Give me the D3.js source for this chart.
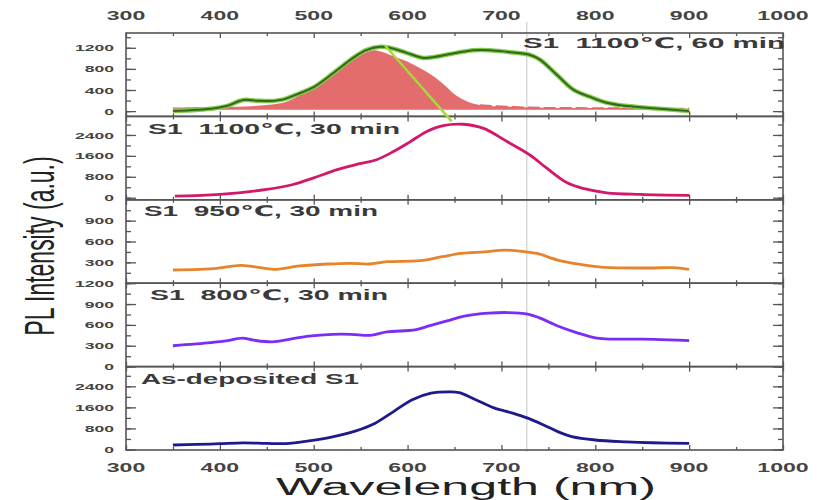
<!DOCTYPE html>
<meta charset="utf-8">
<style>
body{margin:0;background:#fff}
text{font-family:"Liberation Sans","DejaVu Sans","Noto Sans CJK SC",sans-serif;fill:#333}
</style>
<svg width="819" height="500"></svg>
<script src="https://cdn.jsdelivr.net/npm/d3@7/dist/d3.min.js"></script>
<script>

// ---- data (wavelength nm / PL intensity a.u.) ----
var xTicks = [300, 400, 500, 600, 700, 800, 900, 1000];

// top panel: S1 1100℃, 60 min (measured + fitted peak)
var s60Wl = [350, 393, 407, 425, 439, 453, 468, 485, 500, 521, 542, 556, 571, 581, 599, 617, 630, 652, 670, 688, 706, 729, 741, 759, 777, 794, 812, 834, 865, 900];
var s60PL = [0, 51, 96, 210, 198, 191, 223, 338, 453, 721, 1008, 1155, 1219, 1200, 1104, 1008, 1030, 1104, 1155, 1155, 1123, 1072, 976, 689, 402, 274, 160, 96, 51, 0];
var fitWl = [350, 414, 450, 471, 485, 503, 521, 539, 553, 564, 574, 585, 599, 613, 628, 641, 650, 663, 677, 706, 741, 812, 900];
var fitPL = [70, 83, 115, 179, 306, 498, 721, 944, 1091, 1155, 1117, 1040, 944, 817, 657, 466, 320, 185, 115, 83, 64, 57, 45];
var tangentWl = [576, 647];
var tangentPL = [1244, -195];

// S1 1100℃, 30 min
var s30Wl = [352, 400, 450, 478, 500, 525, 549, 567, 585, 603, 620, 638, 659, 681, 706, 730, 748, 770, 787, 812, 848, 900];
var s30PL = [60, 126, 316, 505, 758, 1073, 1300, 1452, 1768, 2147, 2526, 2760, 2810, 2652, 2147, 1642, 1137, 568, 354, 189, 126, 88];

// S1 950℃, 30 min
var s950Wl = [350, 397, 422, 436, 458, 485, 515, 539, 559, 578, 613, 637, 657, 682, 704, 726, 738, 760, 784, 809, 858, 882, 900];
var s950PL = [190, 214, 257, 238, 200, 248, 276, 286, 276, 309, 324, 381, 428, 452, 476, 452, 428, 333, 271, 228, 219, 224, 200];

// S1 800℃, 30 min
var s800Wl = [350, 390, 407, 424, 436, 456, 475, 495, 520, 540, 560, 578, 608, 623, 642, 662, 686, 706, 728, 740, 760, 780, 804, 833, 863, 900];
var s800PL = [300, 345, 370, 410, 380, 355, 395, 440, 465, 465, 450, 500, 528, 585, 658, 730, 768, 778, 755, 705, 585, 490, 405, 395, 393, 375];

// As-deposited S1
var asdWl = [350, 375, 400, 425, 450, 470, 495, 520, 545, 565, 585, 605, 625, 645, 655, 672, 692, 712, 728, 745, 760, 775, 800, 833, 860, 900];
var asdPL = [170, 190, 220, 250, 230, 225, 330, 480, 710, 990, 1440, 1890, 2140, 2190, 2160, 1900, 1580, 1380, 1190, 930, 680, 490, 360, 290, 255, 230];

var markerWl = 727;

var panelNames = ["S1  1100\u2103, 60 min", "S1  1100\u2103, 30 min", "S1  950\u2103, 30 min", "S1  800\u2103, 30 min", "As-deposited S1"];
var panelDomains = [[-100, 1480], [-80, 3110], [0, 1200], [0, 1200], [-20, 3150]];
var panelLabels = [[0, 400, 800, 1200], [0, 800, 1600, 2400], [300, 600, 900], [0, 300, 600, 900, 1200], [0, 800, 1600, 2400]];
var panelMinor = [200, 400, 150, 150, 400];
var panelColors = ["#2e6a1e", "#d2186a", "#e8832c", "#7b2cf5", "#1d1a8c"];

// ---- layout ----
var svg = d3.select("svg");
var top0 = 33, bot = 450, ph = (bot - top0) / 5;
var x = d3.scaleLinear().domain([300, 1000]).range([126, 783]);
var SX = 1.85; // figure is stretched sideways

svg.append("line")
    .attr("x1", x(markerWl)).attr("x2", x(markerWl))
    .attr("y1", 22).attr("y2", bot + 2)
    .attr("stroke", "#cfcfcf").attr("stroke-width", 1.2);

function curveOf(y, wl, pl) {
  return d3.line()
      .x(function(d, i) { return x(wl[i]); })
      .y(function(d) { return y(d); })
      .curve(d3.curveCatmullRom)(pl);
}

var ys = [];
panelDomains.forEach(function(dom, i) {
  var y0 = top0 + i * ph, y1 = y0 + ph;
  var y = d3.scaleLinear().domain(dom).range([y1, y0]);
  ys.push(y);
  var g = svg.append("g");

  // y ticks, both sides, pointing in
  var minorVals = d3.range(Math.ceil(dom[0] / panelMinor[i]) * panelMinor[i], dom[1], panelMinor[i]);
  [[d3.axisLeft, x(300), -1], [d3.axisRight, x(1000), 1]].forEach(function(s) {
    g.append("g").attr("transform", "translate(" + s[1] + ",0)")
        .call(s[0](y).tickValues(minorVals).tickSize(-5).tickFormat(""));
    var ax = g.append("g").attr("transform", "translate(" + s[1] + ",0)")
        .call(s[0](y).tickValues(panelLabels[i]).tickSize(-10).tickPadding(12)
          .tickFormat(s[2] < 0 ? d3.format("d") : ""));
    ax.selectAll("text")
        .attr("x", -12 / SX)
        .attr("transform", "scale(" + SX + ",1)")
        .style("font-size", "9.5px").style("font-weight", "bold").style("fill", "#444");
  });

  // x ticks on top and bottom of each panel, pointing in
  [[d3.axisTop, y1], [d3.axisBottom, y0]].forEach(function(s) {
    var minorX = d3.range(350, 1000, 100);
    g.append("g").attr("transform", "translate(0," + s[1] + ")")
        .call(s[0](x).tickValues(minorX).tickSize(3).tickFormat(""));
    g.append("g").attr("transform", "translate(0," + s[1] + ")")
        .call(s[0](x).tickValues(xTicks).tickSize(5).tickFormat(""));
  });
  g.selectAll(".domain").remove();
  g.selectAll(".tick line").attr("stroke", "#555").attr("stroke-width", 1.3);

  g.append("rect")
      .attr("x", x(300)).attr("y", y0)
      .attr("width", x(1000) - x(300)).attr("height", ph)
      .attr("fill", "none").attr("stroke", "#555").attr("stroke-width", 1.6);
});

// top panel: fit area + measured line + tangent
var y1s = ys[0];
var area = d3.area()
    .x(function(d, i) { return x(fitWl[i]); })
    .y0(y1s(25))
    .y1(function(d) { return y1s(d); })
    .curve(d3.curveCatmullRom);
svg.append("path").attr("d", area(fitPL)).attr("fill", "#e05c5c").attr("fill-opacity", 0.9);
// dashed tail of the fit
var tailIdx = fitWl.map(function(d, i) { return i; }).filter(function(i) { return fitWl[i] >= 677; });
svg.append("path")
    .attr("d", curveOf(y1s, tailIdx.map(function(i) { return fitWl[i]; }), tailIdx.map(function(i) { return fitPL[i]; })))
    .attr("fill", "none").attr("stroke", "#e06a6a").attr("stroke-width", 1.8)
    .attr("stroke-dasharray", "12,4");
svg.append("path").attr("d", curveOf(y1s, s60Wl, s60PL))
    .attr("fill", "none").attr("stroke", "#86c94a").attr("stroke-width", 4.5);
svg.append("path").attr("d", curveOf(y1s, s60Wl, s60PL))
    .attr("fill", "none").attr("stroke", panelColors[0]).attr("stroke-width", 2);
svg.append("line")
    .attr("x1", x(tangentWl[0])).attr("y1", y1s(tangentPL[0]))
    .attr("x2", x(tangentWl[1])).attr("y2", y1s(tangentPL[1]))
    .attr("stroke", "#a6d83e").attr("stroke-width", 2.5);

[[s30Wl, s30PL], [s950Wl, s950PL], [s800Wl, s800PL], [asdWl, asdPL]].forEach(function(s, k) {
  svg.append("path").attr("d", curveOf(ys[k + 1], s[0], s[1]))
      .attr("fill", "none").attr("stroke", panelColors[k + 1])
      .attr("stroke-width", 2.8).attr("stroke-linejoin", "round");
});

// panel names
var nameX = [[523, 262], [148, 252], [144, 234], [150, 238], [141, 218]];
var nameY = [48, 134, 216, 300, 384];
panelNames.forEach(function(t, i) {
  svg.append("text")
      .attr("x", nameX[i][0]).attr("y", nameY[i])
      .attr("textLength", nameX[i][1]).attr("lengthAdjust", "spacingAndGlyphs")
      .style("white-space", "pre")
      .style("font-size", "14.5px").style("font-weight", "bold").style("fill", "#3a3a3a")
      .text(t);
});

// wavelength labels, top and bottom
[[20, "top"], [472, "bottom"]].forEach(function(s) {
  svg.append("g").selectAll("text").data(xTicks).join("text")
      .attr("transform", function(d) { return "translate(" + x(d) + "," + s[0] + ") scale(" + SX + ",1)"; })
      .attr("text-anchor", "middle")
      .style("font-size", "12.5px").style("font-weight", "bold").style("fill", "#444")
      .text(function(d) { return d; });
});

svg.append("text")
    .attr("x", 466).attr("y", 495)
    .attr("text-anchor", "middle")
    .attr("textLength", 380).attr("lengthAdjust", "spacingAndGlyphs")
    .style("font-size", "23px").style("fill", "#222")
    .text("Wavelength (nm)");

svg.append("text")
    .attr("transform", "translate(54,246) scale(" + SX + ",1) rotate(-90)")
    .attr("text-anchor", "middle")
    .style("font-size", "23px").style("fill", "#222")
    .text("PL Intensity (a.u.)");

</script>
